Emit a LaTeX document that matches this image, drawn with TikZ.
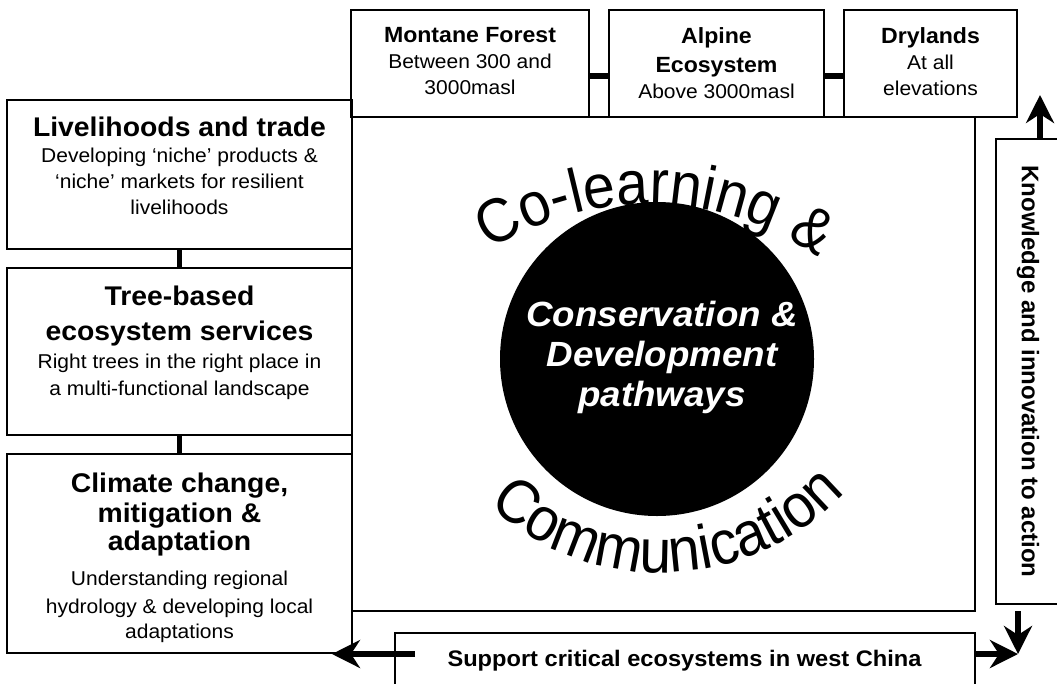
\documentclass[tikz,border=0pt]{standalone}
\usepackage{fontspec}
\setmainfont{Liberation Sans}
\newfontfamily\wf[FakeStretch=1.05]{Liberation Sans}
\newfontfamily\cf[FakeStretch=0.92]{Liberation Sans}
\usetikzlibrary{arrows.meta,decorations.text}
\newcommand\ttitle{\bfseries\fontsize{22}{26}\selectfont}
\newcommand\ltitle{\bfseries\fontsize{27}{26}\selectfont}
\begin{document}
\begin{tikzpicture}[x=1pt,y=1pt,
 box/.style={draw, line width=1.6pt, rectangle, inner sep=0pt, outer sep=0pt},
 txt/.style={anchor=north, inner sep=0pt, align=center, font=\wf\fontsize{20}{26}\selectfont},
 conn/.style={draw, line width=5.5pt},
 arr/.style={draw, line width=5.5pt, -{Stealth[length=28pt,width=28pt,inset=9pt]}},
 ctext/.style={decorate, decoration={text along path, text align=center, text={|\cf\fontsize{62}{64}\selectfont|#1}}}
]
\fill[white] (0,0) rectangle (1057,-683);
\useasboundingbox (0,0) rectangle (1057,-683);

% top boxes
\node[box, minimum width=238pt, minimum height=107pt] (mont) at (470,-63.5) {};
\node[txt] (montt) at (470,-27) {{\ttitle Montane Forest}\\Between 300 and\\3000masl};
\node[box, minimum width=215pt, minimum height=107pt] (alp) at (716.5,-63.5) {};
\node[txt] (alpt) at (716.5,-27) {{\ttitle Alpine}\\[3pt]{\ttitle Ecosystem}\\Above 3000masl};
\node[box, minimum width=173pt, minimum height=107pt] (dry) at (930.5,-63.5) {};
\node[txt] (dryt) at (930.5,-27) {{\ttitle Drylands}\\At all\\elevations};

% left boxes
\node[box, minimum width=345pt, minimum height=149pt] (liv) at (179.5,-174.5) {};
\node[txt] (livt) at (179.5,-116.3) {{\ltitle Livelihoods and trade}\\Developing ‘niche’ products \&\\‘niche’ markets for resilient\\livelihoods};
\node[box, minimum width=345pt, minimum height=167pt] (tree) at (179.5,-351.5) {};
\node[txt] (treet) at (179.5,-285.3) {{\ltitle Tree-based}\\[9pt]{\ltitle ecosystem services}\\[2pt]Right trees in the right place in\\[1pt]a multi-functional landscape};
\node[box, minimum width=345pt, minimum height=199pt] (clim) at (179.5,-553.5) {};
\node[txt] (climt) at (179.5,-472.3) {{\ltitle Climate change,}\\[4pt]{\ltitle mitigation \&}\\[2pt]{\ltitle adaptation}\\[9pt]Understanding regional\\[2pt]hydrology \& developing local\\[-1pt]adaptations};

% centre
\node[box, minimum width=623pt, minimum height=494pt] (ctr) at (663.5,-364) {};
\node[circle, fill=black, minimum size=314pt, inner sep=0pt] (circ) at (657,-359) {};
\node[text=white, align=center, inner sep=0pt,
      font=\wf\bfseries\itshape\fontsize{35}{40}\selectfont] (circt) at (662,-357.5)
      {Conservation \&\\Development\\pathways};
\path[ctext={Co-learning {\&}}] (649,-499) ++(138.7:295pt) arc[start angle=138.7, end angle=38.7, radius=295pt];
\path[ctext={Communication}] (661,-320) ++(-148.1:252.5pt) arc[start angle=-148.1, end angle=-28.1, radius=252.5pt];

% right box
\node[box, minimum width=64pt, minimum height=465pt] (kn) at (1028,-371.5) {};
\node[rotate=-90, inner sep=0pt, font=\bfseries\fontsize{24}{24}\selectfont] (knt) at (1028,-371.5) {Knowledge and innovation to action};

% bottom box
\node[box, minimum width=580pt, minimum height=67pt] (sup) at (685,-666.5) {};
\node[txt, font=\wf\bfseries\fontsize{22.5}{24}\selectfont] (supt) at (684.5,-650) {Support critical ecosystems in west China};

% connectors
\draw[conn] ([yshift=-12.5pt]mont.east) -- ([yshift=-12.5pt]alp.west);
\draw[conn] ([yshift=-12.5pt]alp.east) -- ([yshift=-12.5pt]dry.west);
\draw[conn] (liv.south) -- (tree.north);
\draw[conn] (tree.south) -- (clim.north);

% arrows
\coordinate (uptip) at (1040,-95);
\draw[arr] (uptip |- kn.north) -- (uptip);
\coordinate (tipR) at (1018,-654);
\draw[arr] (ctr.south -| tipR) -- (tipR);
\draw[arr] (sup.east |- tipR) -- (tipR);
\coordinate (tipL) at (332,-654);
\coordinate (lstart) at (415,-654);
\draw[arr] (lstart) -- (tipL);
\end{tikzpicture}
\end{document}
